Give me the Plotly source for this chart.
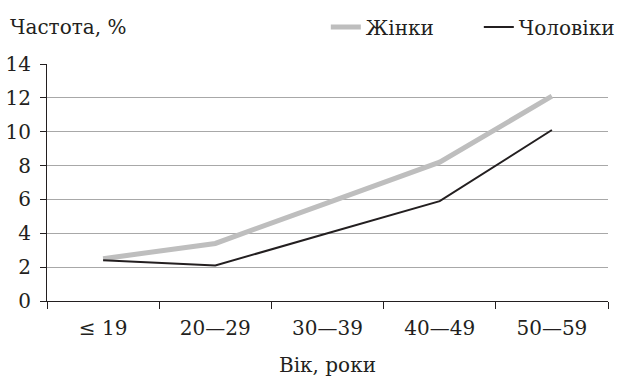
import plotly.graph_objects as go

# Age groups and frequencies (%)
age_groups = ["≤ 19", "20—29", "30—39", "40—49", "50—59"]
women = [2.5, 3.4, 5.8, 8.2, 12.1]
men = [2.4, 2.1, 4.0, 5.9, 10.1]
y_ticks = [0, 2, 4, 6, 8, 10, 12, 14]

FONT = "DejaVu Serif"
INK = "#231f20"
FS = 20

fig = go.Figure()
fig.add_trace(go.Scatter(
    x=age_groups, y=women, name="Жінки", mode="lines",
    line=dict(color="#bebebe", width=5),
))
fig.add_trace(go.Scatter(
    x=age_groups, y=men, name="Чоловіки", mode="lines",
    line=dict(color=INK, width=2),
))

fig.update_layout(
    width=619, height=383,
    margin=dict(l=47, r=11, t=64, b=82, autoexpand=False),
    paper_bgcolor="white", plot_bgcolor="white",
    font=dict(family=FONT, size=FS, color=INK),
    showlegend=True,
    legend=dict(
        orientation="h", x=0.497, xanchor="left", y=1.156, yanchor="middle",
        font=dict(family=FONT, size=FS, color=INK),
        itemwidth=30, entrywidth=108, traceorder="normal",
        bgcolor="rgba(0,0,0,0)",
    ),
    annotations=[
        dict(text="Частота, %", xref="paper", yref="paper", x=-0.07, y=1.156,
             xanchor="left", yanchor="middle", showarrow=False,
             font=dict(family=FONT, size=FS, color=INK)),
        dict(text="Вік, роки", xref="paper", yref="paper", x=0.5, y=-0.27,
             xanchor="center", yanchor="middle", showarrow=False,
             font=dict(family=FONT, size=FS, color=INK)),
    ],
)

fig.update_xaxes(
    type="category", range=[-0.5, 4.5],
    tickson="boundaries", ticks="outside", ticklen=7, tickcolor=INK,
    showline=True, linecolor=INK, linewidth=1,
    showgrid=False, zeroline=False, ticklabelstandoff=9,
    tickfont=dict(family=FONT, size=FS, color=INK),
)
fig.update_yaxes(
    range=[0, 14], tickvals=y_ticks, ticks="outside", ticklen=6, tickcolor=INK,
    showline=True, linecolor=INK, linewidth=1,
    showgrid=True, gridcolor="#a8a8a8", gridwidth=1, zeroline=False,
    ticklabelstandoff=5,
    tickfont=dict(family=FONT, size=FS, color=INK),
)

fig.write_html("out.html")
